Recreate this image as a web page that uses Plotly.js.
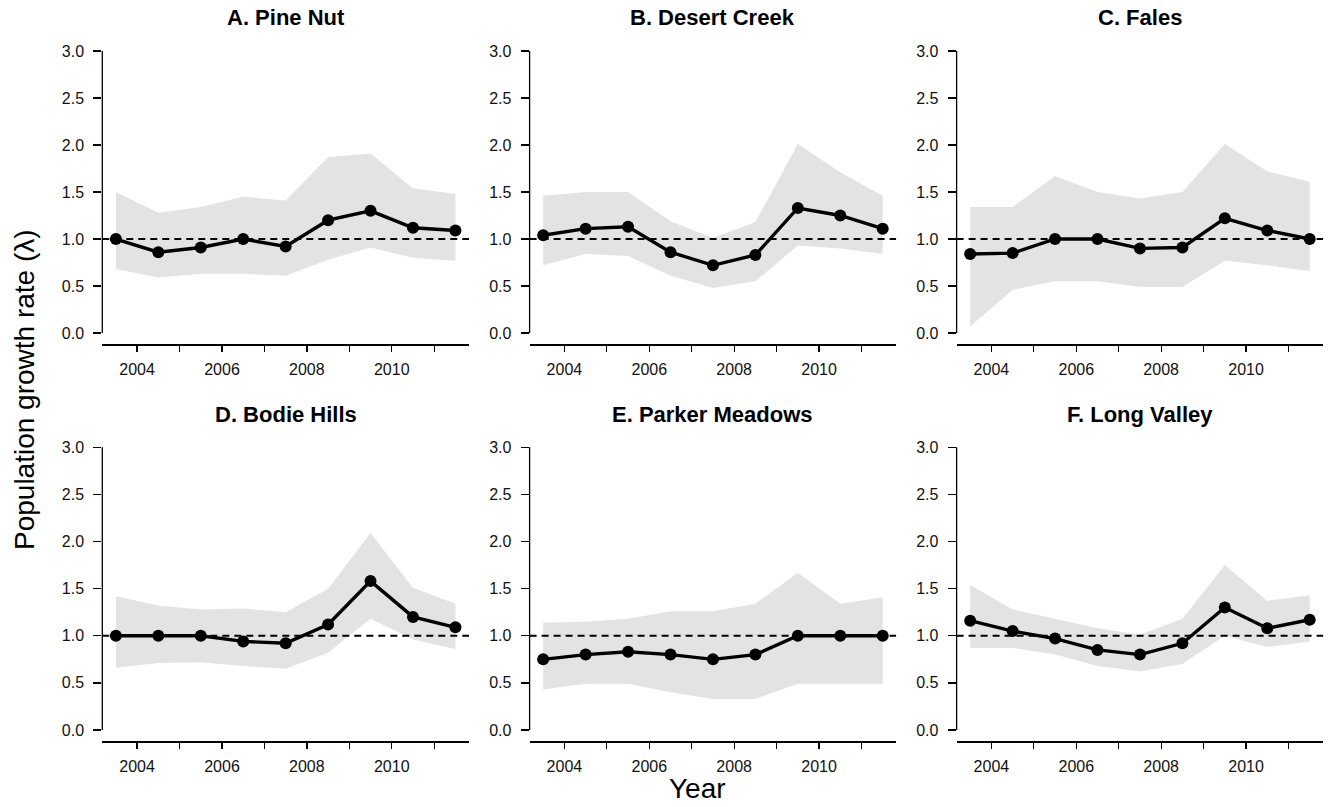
<!DOCTYPE html>
<html>
<head>
<meta charset="utf-8">
<script src="https://cdn.plot.ly/plotly-3.0.1.min.js"></script>
<style>html,body{margin:0;padding:0;background:#fff;}</style>
</head>
<body>
<div id="chart" style="width:1330px;height:807px;"></div>
<script>
// ---- data ----
const years = [2003.5, 2004.5, 2005.5, 2006.5, 2007.5, 2008.5, 2009.5, 2010.5, 2011.5];
const panelTitles = ["A. Pine Nut", "B. Desert Creek", "C. Fales", "D. Bodie Hills", "E. Parker Meadows", "F. Long Valley"];

const lambdaA = [1.00, 0.86, 0.91, 1.00, 0.92, 1.20, 1.30, 1.12, 1.09];
const upperA  = [1.50, 1.28, 1.34, 1.45, 1.41, 1.87, 1.91, 1.54, 1.48];
const lowerA  = [0.68, 0.59, 0.63, 0.63, 0.61, 0.78, 0.91, 0.80, 0.77];

const lambdaB = [1.04, 1.11, 1.13, 0.86, 0.72, 0.83, 1.33, 1.25, 1.11];
const upperB  = [1.46, 1.50, 1.50, 1.19, 1.01, 1.18, 2.01, 1.71, 1.46];
const lowerB  = [0.72, 0.84, 0.82, 0.61, 0.48, 0.55, 0.93, 0.90, 0.84];

const lambdaC = [0.84, 0.85, 1.00, 1.00, 0.90, 0.91, 1.22, 1.09, 1.00];
const upperC  = [1.34, 1.34, 1.67, 1.50, 1.43, 1.50, 2.01, 1.72, 1.61];
const lowerC  = [0.07, 0.46, 0.55, 0.55, 0.49, 0.49, 0.77, 0.72, 0.66];

const lambdaD = [1.00, 1.00, 1.00, 0.94, 0.92, 1.12, 1.58, 1.20, 1.09];
const upperD  = [1.42, 1.32, 1.28, 1.29, 1.25, 1.50, 2.09, 1.51, 1.34];
const lowerD  = [0.66, 0.71, 0.72, 0.68, 0.65, 0.82, 1.18, 0.96, 0.86];

const lambdaE = [0.75, 0.80, 0.83, 0.80, 0.75, 0.80, 1.00, 1.00, 1.00];
const upperE  = [1.14, 1.15, 1.18, 1.26, 1.26, 1.34, 1.67, 1.34, 1.41];
const lowerE  = [0.43, 0.49, 0.49, 0.40, 0.33, 0.33, 0.49, 0.49, 0.49];

const lambdaF = [1.16, 1.05, 0.97, 0.85, 0.80, 0.92, 1.30, 1.08, 1.17];
const upperF  = [1.54, 1.28, 1.18, 1.08, 1.01, 1.18, 1.75, 1.37, 1.43];
const lowerF  = [0.87, 0.87, 0.80, 0.68, 0.62, 0.70, 1.00, 0.88, 0.94];

const xTickVals = [2004, 2005, 2006, 2007, 2008, 2009, 2010, 2011];
const xTickText = ["2004", "", "2006", "", "2008", "", "2010", ""];
const yTickVals = [0, 0.5, 1, 1.5, 2, 2.5, 3];
const yTickText = ["0.0", "0.5", "1.0", "1.5", "2.0", "2.5", "3.0"];
const refLevel = 1;

// ---- layout helpers ----
const W = 1330, H = 807;
const colPx = [[102.3, 469], [529.6, 896.3], [956.6, 1323.3]];
const rowPx = [[39.7, 344.3], [436, 741.3]];
const xRange = [2003.18, 2011.82];
const yRange = [-0.12, 3.12];
const FONT = "Liberation Sans, Arial, Helvetica, sans-serif";

const panels = [
  {lam: lambdaA, up: upperA, lo: lowerA},
  {lam: lambdaB, up: upperB, lo: lowerB},
  {lam: lambdaC, up: upperC, lo: lowerC},
  {lam: lambdaD, up: upperD, lo: lowerD},
  {lam: lambdaE, up: upperE, lo: lowerE},
  {lam: lambdaF, up: upperF, lo: lowerF}
];

const data = [];
const layout = {
  width: W, height: H,
  margin: {l: 0, r: 0, t: 0, b: 0},
  paper_bgcolor: "#ffffff",
  plot_bgcolor: "rgba(0,0,0,0)",
  showlegend: false,
  font: {family: FONT, color: "#000"},
  shapes: [],
  annotations: []
};

panels.forEach((p, i) => {
  const n = i + 1;
  const sfx = n === 1 ? "" : String(n);
  const xa = "x" + sfx, ya = "y" + sfx;
  const col = i % 3, row = Math.floor(i / 3);

  // CI band polygon
  data.push({
    x: years.concat(years.slice().reverse()),
    y: p.up.concat(p.lo.slice().reverse()),
    xaxis: xa, yaxis: ya,
    type: "scatter", mode: "lines",
    fill: "toself", fillcolor: "#e3e3e3",
    line: {width: 0, color: "rgba(0,0,0,0)"},
    hoverinfo: "skip"
  });
  // reference line at lambda = 1
  data.push({
    x: xRange, y: [refLevel, refLevel],
    xaxis: xa, yaxis: ya,
    type: "scatter", mode: "lines",
    line: {color: "#000", width: 2, dash: "7px,5px"},
    hoverinfo: "skip"
  });
  // lambda series
  data.push({
    x: years, y: p.lam,
    xaxis: xa, yaxis: ya,
    type: "scatter", mode: "lines+markers",
    line: {color: "#000", width: 3.4},
    marker: {color: "#000", size: 12}
  });

  layout["xaxis" + sfx] = {
    domain: [colPx[col][0] / W, colPx[col][1] / W],
    anchor: ya,
    range: xRange,
    showgrid: false, zeroline: false,
    showline: true, linecolor: "#000", linewidth: 1.3,
    ticks: "outside", ticklen: 6, tickwidth: 1.3, tickcolor: "#000",
    ticklabelstandoff: 4,
    tickmode: "array", tickvals: xTickVals, ticktext: xTickText,
    tickfont: {size: 16, color: "#111", family: FONT},
    fixedrange: true
  };
  layout["yaxis" + sfx] = {
    domain: [1 - rowPx[row][1] / H, 1 - rowPx[row][0] / H],
    anchor: xa,
    range: yRange,
    showgrid: false, zeroline: false, showline: false,
    ticks: "outside", ticklen: 8, tickwidth: 1.3, tickcolor: "#000",
    ticklabelstandoff: 6,
    tickmode: "array", tickvals: yTickVals, ticktext: yTickText,
    tickfont: {size: 16, color: "#111", family: FONT},
    fixedrange: true
  };
  // y axis line from 0 to 3
  layout.shapes.push({
    type: "line", xref: xa + " domain", yref: ya,
    x0: 0, x1: 0, y0: yTickVals[0], y1: yTickVals[yTickVals.length - 1],
    line: {color: "#000", width: 1.3}, layer: "above"
  });
  // panel title
  layout.annotations.push({
    text: "<b>" + panelTitles[i] + "</b>",
    xref: xa + " domain", yref: "paper",
    x: 0.5, y: 1 - (row === 0 ? 17 : 414) / H,
    xanchor: "center", yanchor: "middle",
    showarrow: false,
    font: {size: 22, family: FONT, color: "#000"}
  });
});

// axis titles
layout.annotations.push({
  text: "Year", xref: "paper", yref: "paper",
  x: 697 / W, y: 1 - 788 / H, xanchor: "center", yanchor: "middle",
  showarrow: false, font: {size: 28, family: FONT, color: "#000"}
});
layout.annotations.push({
  text: "Population growth rate (λ)", xref: "paper", yref: "paper",
  x: 24 / W, y: 1 - 390 / H, xanchor: "center", yanchor: "middle",
  textangle: -90,
  showarrow: false, font: {size: 28, family: FONT, color: "#000"}
});

Plotly.newPlot("chart", data, layout, {displayModeBar: false, staticPlot: true});
</script>
</body>
</html>
